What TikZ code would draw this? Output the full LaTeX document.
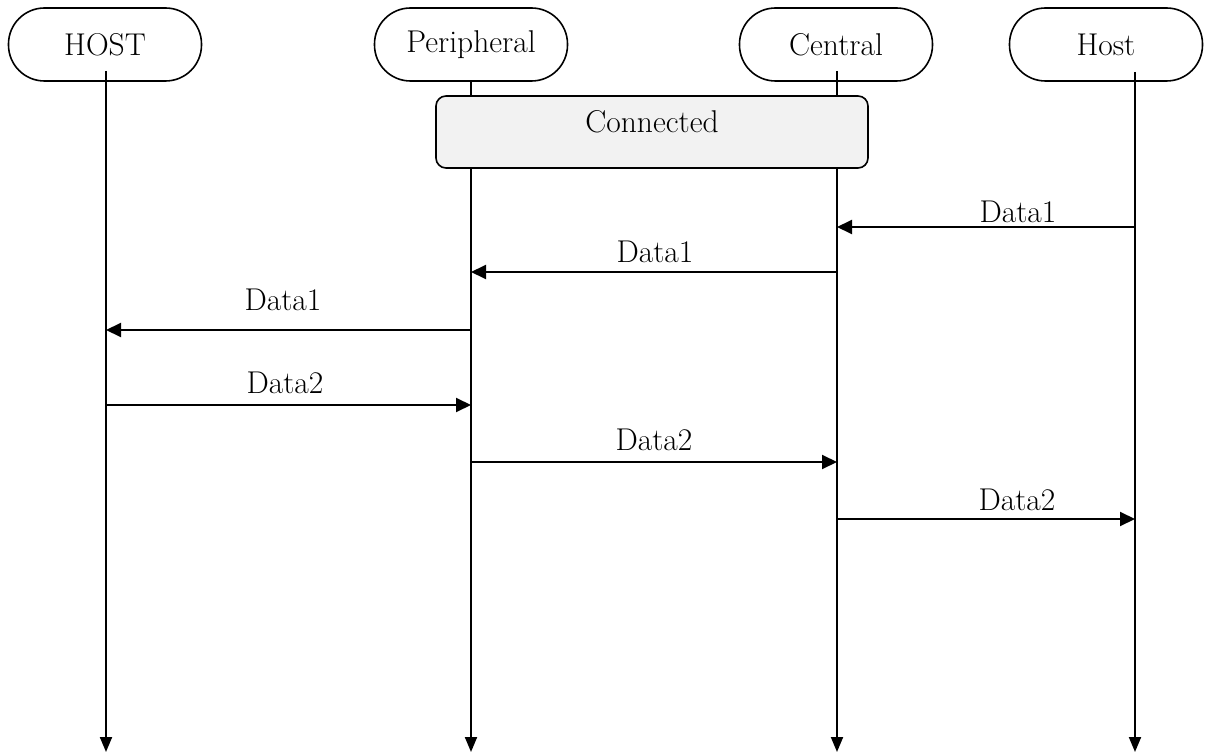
\documentclass[tikz,border=0pt]{standalone}
\usetikzlibrary{arrows.meta}
\begin{document}
\begin{tikzpicture}[x=1pt,y=-1pt,
  every node/.style={font=\fontsize{31.5}{36}\selectfont},
  head/.style={draw,line width=1.6pt,fill=white,rounded corners=36pt,minimum width=193pt,minimum height=73pt,inner sep=0pt},
  lifeline/.style={line width=2pt,-{Triangle[length=15pt,width=12pt]}},
  msg/.style={line width=2pt,-{Triangle[length=15pt,width=14pt]}},
  lbl/.style={anchor=base,inner sep=0pt},
  band/.style={draw,line width=1.6pt,fill=gray!10,rounded corners=10pt,minimum width=432pt,minimum height=72pt,inner sep=0pt}]
\useasboundingbox (0,0) rectangle (1205,754);
% headers
\node[head] (hHOST) at (105,44.5) {HOST};
\node[head] (hPer) at (471,44.5) {Peripheral};
\node[head] (hCen) at (836,44.5) {Central};
\node[head] (hHost) at (1106,44.5) {Host};
% lifeline end points
\coordinate (sHOST) at (106,71);
\coordinate (eHOST) at (106,752);
\coordinate (ePer) at (471,752);
\coordinate (sCen) at (837,71);
\coordinate (eCen) at (837,752);
\coordinate (sHost) at (1135,72);
\coordinate (eHost) at (1135,752);
\draw[lifeline] (sHOST) -- (eHOST);
\draw[lifeline] (hPer.south -| ePer) -- (ePer);
\draw[lifeline] (sCen) -- (eCen);
\draw[lifeline] (sHost) -- (eHost);
% connected band
\node[band] (conn) at (652,132) {};
\node[lbl] (connT) at (652,133) {Connected};
% message points
\coordinate (m1a) at (1135,227); \coordinate (m1b) at (837,227);
\coordinate (m2a) at (837,272);  \coordinate (m2b) at (471,272);
\coordinate (m3a) at (471,330);  \coordinate (m3b) at (106,330);
\coordinate (m4a) at (106,405);  \coordinate (m4b) at (471,405);
\coordinate (m5a) at (471,462);  \coordinate (m5b) at (837,462);
\coordinate (m6a) at (837,519);  \coordinate (m6b) at (1135,519);
\draw[msg] (m1a) -- (m1b);
\draw[msg] (m2a) -- (m2b);
\draw[msg] (m3a) -- (m3b);
\draw[msg] (m4a) -- (m4b);
\draw[msg] (m5a) -- (m5b);
\draw[msg] (m6a) -- (m6b);
% labels
\node[lbl] (l1) at (1018,223) {Data1};
\node[lbl] (l2) at (655,262) {Data1};
\node[lbl] (l3) at (283,310) {Data1};
\node[lbl] (l4) at (285,393) {Data2};
\node[lbl] (l5) at (654,450) {Data2};
\node[lbl] (l6) at (1017,510) {Data2};
\end{tikzpicture}
\end{document}
